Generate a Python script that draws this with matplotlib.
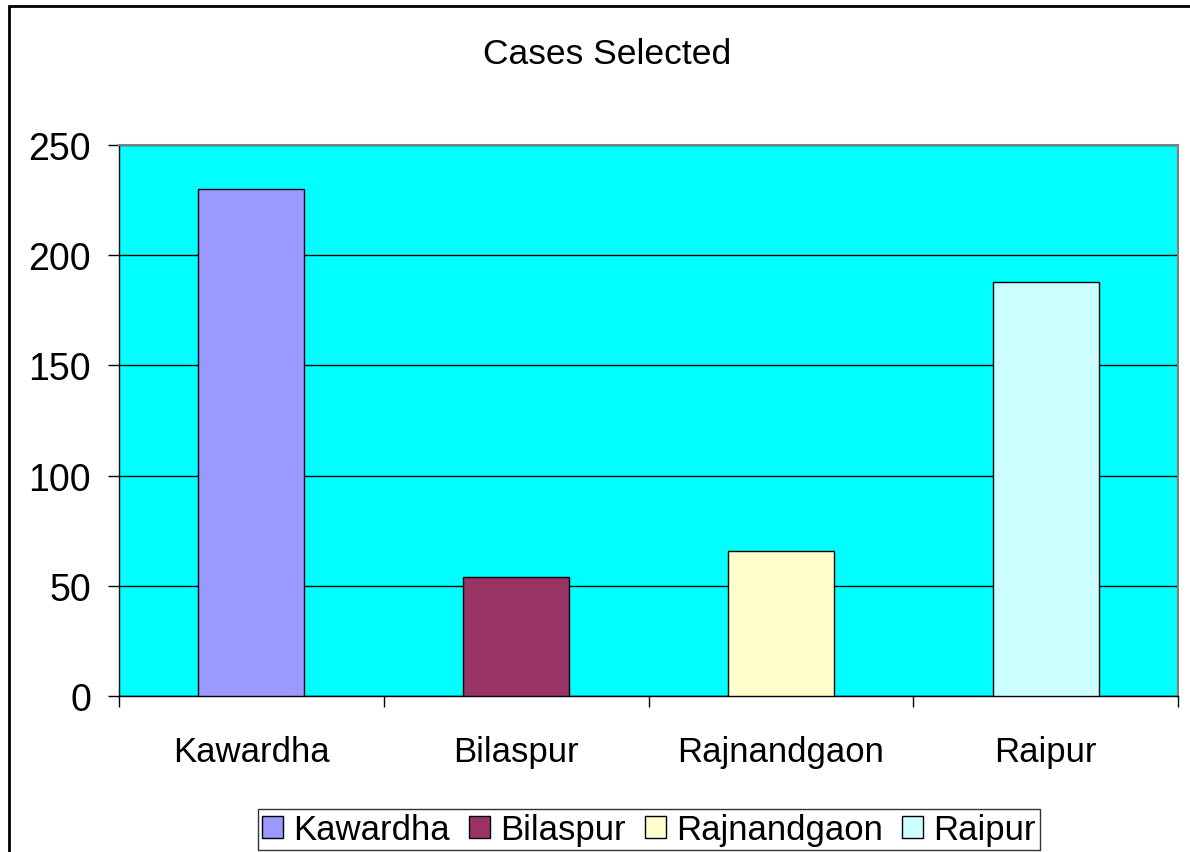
import numpy as np
import matplotlib
matplotlib.use("Agg")
import matplotlib.pyplot as plt
from matplotlib.patches import Rectangle

plt.rcParams['font.family'] = ['Liberation Sans', 'DejaVu Sans']

districts = ['Kawardha', 'Bilaspur', 'Rajnandgaon', 'Raipur']
cases = [230, 54, 66, 188]
bar_colors = ['#9999FF', '#993366', '#FFFFCC', '#CCFFFF']

W, H = 1190, 853
fig = plt.figure(figsize=(W / 100, H / 100), dpi=100)
ax = fig.add_axes([119 / W, 1 - 697 / H, (1178 - 119) / W, (697 - 146) / H])

# outer chart frame, cut off at right and bottom
fig.patches.append(Rectangle((9 / W, -0.01), 1.2, 1 - 7 / H + 0.01,
                             transform=fig.transFigure, fill=False,
                             edgecolor='black', linewidth=2))

ax.set_facecolor('#00FFFF')
x = np.arange(len(districts))
bars = ax.bar(x, cases, width=0.4, color=bar_colors, edgecolor='black',
              linewidth=1, zorder=3, label=districts)

ax.set_xlim(-0.5, len(districts) - 0.5)
ax.set_ylim(0, 250)
ax.set_yticks(np.arange(0, 251, 50))
ax.yaxis.grid(True, color='black', linewidth=1, zorder=1)
ax.set_axisbelow(True)

ax.set_xticks(x)
ax.set_xticklabels(districts)
ax.set_xticks(np.arange(-0.5, len(districts), 1), minor=True)
ax.tick_params(axis='x', which='major', length=0, pad=28, labelsize=25)
ax.tick_params(axis='x', which='minor', length=8, width=1, direction='out')
ax.tick_params(axis='y', length=8, width=1, direction='out', pad=12, labelsize=27)

for side in ['top', 'right']:
    ax.spines[side].set_color('#808080')
    ax.spines[side].set_linewidth(1.5)
for side in ['left', 'bottom']:
    ax.spines[side].set_color('black')
    ax.spines[side].set_linewidth(1)

fig.text(607 / W, 1 - 55 / H, 'Cases Selected', ha='center', va='center', fontsize=25.5)

leg = fig.legend(bars, districts, loc='lower center', ncol=4,
                 bbox_to_anchor=(649 / W, 0.0), fontsize=25, frameon=True,
                 fancybox=False, handlelength=0.6, handleheight=0.6,
                 handletextpad=0.3, columnspacing=0.55, borderpad=0.12,
                 borderaxespad=0.05)
leg.get_frame().set_edgecolor('black')
leg.get_frame().set_linewidth(1)

fig.savefig('out.png', dpi=100)
